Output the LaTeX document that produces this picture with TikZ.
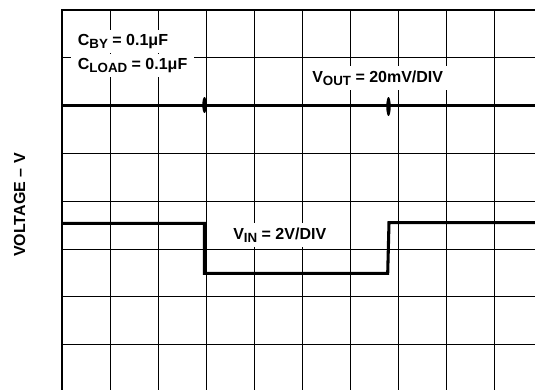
\documentclass[tikz,border=0pt]{standalone}
\usepackage{fontspec}
\setmainfont{Liberation Sans}
\usepackage{tikz}

\newcommand{\lowsub}[1]{\raisebox{-2.8pt}{\fontsize{10}{10}\selectfont #1}}

\tikzset{
  gridline/.style={line width=0.75pt},
  frameline/.style={line width=1.6pt},
  trace/.style={line width=2.3pt},
  scopelabel/.style={fill=white,inner xsep=3pt,inner ysep=3pt,font=\fontsize{12}{14}\selectfont\bfseries}
}

\begin{document}
\begin{tikzpicture}[x=0.75pt,y=0.75pt,yscale=-1,xscale=1]
\useasboundingbox (0,0) rectangle (535,389);
\clip (0,0) rectangle (535,389);

%Grid
\foreach \gx in {110,158,...,542}
  \draw [gridline] (\gx,10) -- (\gx,394);
\foreach \gy in {57.8,105.6,153.4,201.2,249,296.8,344.6}
  \draw [gridline] (62,\gy) -- (542,\gy);

%Frame
\draw [frameline] (62,394) -- (62,10) -- (542,10);

%Straight Lines (output trace)
\draw [trace] (62,105.6) -- (542,105.6);
\fill (204.5,105) ellipse (2.2 and 8);
\fill (388.5,106.5) ellipse (2.2 and 9.5);

%Straight Lines (input trace)
\draw [trace, line join=miter] (62,223.3) -- (204.3,223.3) -- (204.3,273.3) -- (387.7,273.3) -- (389,222.7) -- (542,222.7);

% Text Node
\draw (71,45) node (cby) [scopelabel, anchor=base west, inner xsep=5pt] {C\lowsub{BY} = 0.1μF};
% Text Node
\draw (71,69) node (cload) [scopelabel, anchor=base west, inner xsep=5pt] {C\lowsub{LOAD} = 0.1μF};
% Text Node
\draw (308,82) node (vout) [scopelabel, anchor=base west] {V\lowsub{OUT} = 20mV/DIV};
% Text Node
\draw (229,239) node (vin) [scopelabel, anchor=base west] {V\lowsub{IN} = 2V/DIV};
% Text Node
\draw (25,205) node (volt) [anchor=base, rotate=90, font=\fontsize{12}{14}\selectfont\bfseries] {VOLTAGE – V};

\end{tikzpicture}
\end{document}
